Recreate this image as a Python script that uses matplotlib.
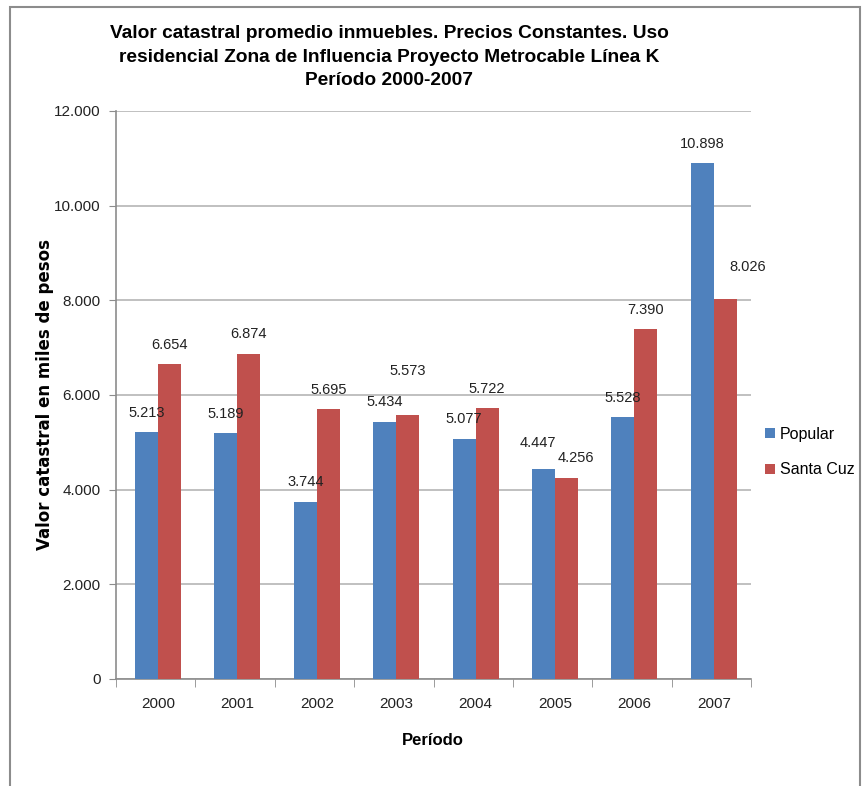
import matplotlib.pyplot as plt
from matplotlib.patches import Rectangle
import numpy as np

years = ['2000', '2001', '2002', '2003', '2004', '2005', '2006', '2007']
popular = [5213, 5189, 3744, 5434, 5077, 4447, 5528, 10898]
santa_cruz = [6654, 6874, 5695, 5573, 5722, 4256, 7390, 8026]
series_names = ['Popular', 'Santa Cuz']
yticks = [0, 2000, 4000, 6000, 8000, 10000, 12000]


def fmt(v):
    return '{:,}'.format(v).replace(',', '.')


plt.rcParams['font.family'] = ['Liberation Sans', 'DejaVu Sans']

fig = plt.figure(figsize=(8.63, 7.86), dpi=100)
ax = fig.add_axes([116 / 863, 1 - 679 / 786, (751 - 116) / 863, (679 - 111) / 786])

# frame round the chart
fig.patches.append(Rectangle((10 / 863, -0.05), 850 / 863, 1.05 - 7 / 786,
                             transform=fig.transFigure, fill=False,
                             edgecolor='#8c8c8c', linewidth=1.5))

x = np.arange(len(years))
w = 0.29
b1 = ax.bar(x - w / 2 + 0.03, popular, w, color='#4F81BD', zorder=3)
b2 = ax.bar(x + w / 2 + 0.03, santa_cruz, w, color='#C0504D', zorder=3)

# label offsets in points (most sit just above the bar)
off_pop = [9, 9, 9, 9, 9, 13, 9, 9]
dx_pop = [0, 0, 0, 0, 0, -4, 0, 0]
off_sc = [9, 9, 9, 27, 9, 9, 9, 18]
dx_sc = [0, 0, 0, 0, 0, 7, 0, 16]
for i, r in enumerate(b1):
    ax.annotate(fmt(popular[i]), (r.get_x() + r.get_width() / 2, r.get_height()),
                xytext=(dx_pop[i], off_pop[i]), textcoords='offset points',
                ha='center', va='bottom', fontsize=10.5, color='#222222')
for i, r in enumerate(b2):
    ax.annotate(fmt(santa_cruz[i]), (r.get_x() + r.get_width() / 2, r.get_height()),
                xytext=(dx_sc[i], off_sc[i]), textcoords='offset points',
                ha='center', va='bottom', fontsize=10.5, color='#222222')

ax.set_ylim(0, 12000)
ax.set_xlim(-0.5, len(years) - 0.5)
ax.set_yticks(yticks)
ax.set_yticklabels([fmt(v) for v in yticks], fontsize=11, color='#222222')
ax.set_xticks(x + 0.03)
ax.set_xticklabels(years, fontsize=11, color='#222222')
ax.set_xticks(np.arange(len(years) + 1) - 0.5, minor=True)
ax.tick_params(axis='x', which='major', length=0, pad=13)
ax.tick_params(axis='x', which='minor', length=6, color='#8c8c8c')
ax.tick_params(axis='y', length=5, color='#8c8c8c', pad=6)
ax.grid(axis='y', color='#b5b5b5', linewidth=1.2, zorder=0)
for s in ['top', 'right']:
    ax.spines[s].set_visible(False)
for s in ['left', 'bottom']:
    ax.spines[s].set_color('#8c8c8c')
    ax.spines[s].set_linewidth(1.2)

ax.set_xlabel('Período', fontsize=12, fontweight='bold')
ax.xaxis.set_label_coords((433 - 116) / (751 - 116), -(733 - 679) / 568)
ax.set_ylabel('Valor catastral en miles de pesos', family=['DejaVu Sans'],
              fontsize=12, fontweight='bold')
ax.yaxis.set_label_coords(-(116 - 54) / (751 - 116), (679 - 395) / 568)

fig.text(389 / 863, 1 - 57 / 786,
         'Valor catastral promedio inmuebles. Precios Constantes. Uso\n'
         'residencial Zona de Influencia Proyecto Metrocable Línea K\n'
         'Período 2000-2007',
         ha='center', va='center', fontsize=13.8, fontweight='bold',
         linespacing=1.5)

ax.legend([b1, b2], series_names, loc='center left',
          bbox_to_anchor=(1.0, (679 - 452) / 568),
          frameon=False, fontsize=11.5, handlelength=0.6, handleheight=0.6,
          handletextpad=0.3, labelspacing=1.3, borderaxespad=0.5)

fig.savefig('out.png', dpi=100)
